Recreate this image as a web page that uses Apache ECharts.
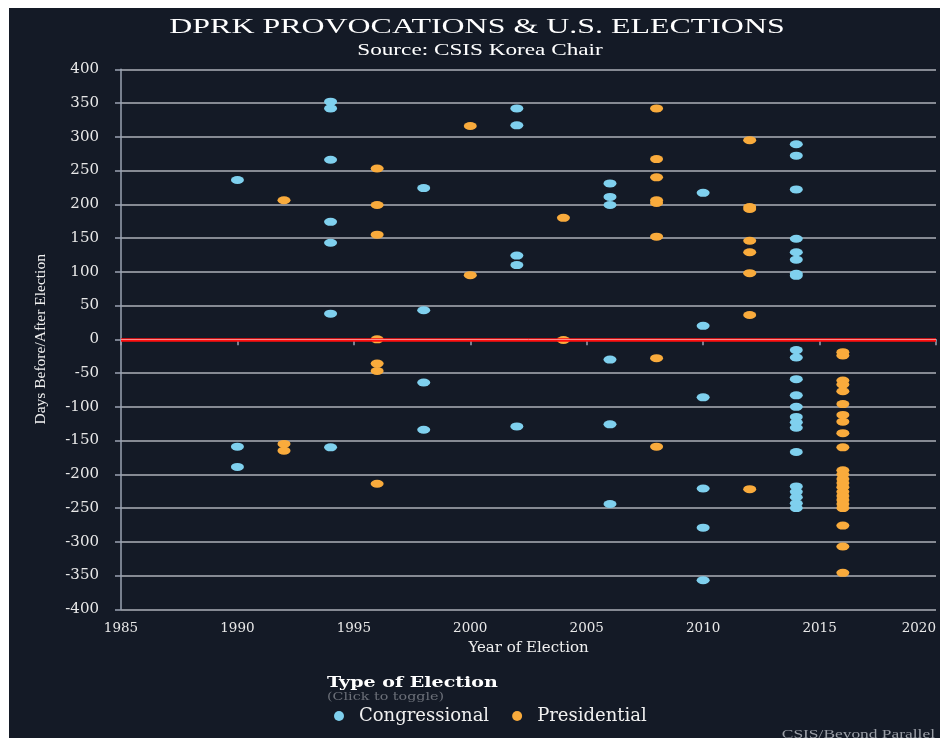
<!DOCTYPE html>
<html>
<head>
<meta charset="utf-8">
<script src="https://cdn.jsdelivr.net/npm/echarts@6/dist/echarts.min.js"></script>
<style>
html,body{margin:0;padding:0;background:#ffffff;width:940px;height:738px;overflow:hidden;}
#chart{position:absolute;left:9px;top:8px;width:931px;height:730px;background:#141a26;}
</style>
</head>
<body>
<div id="chart"></div>
<script>
// ---- Data ----
const titleText = 'DPRK PROVOCATIONS & U.S. ELECTIONS';
const subtitleText = 'Source: CSIS Korea Chair';
const seriesNames = ['Congressional', 'Presidential'];

const congressionalYears = [
  1990,1990,1990,
  1994,1994,1994,1994,1994,1994,1994,
  1998,1998,1998,1998,
  2002,2002,2002,2002,2002,
  2006,2006,2006,2006,2006,2006,
  2010,2010,2010,2010,2010,2010,
  2014,2014,2014,2014,2014,2014,2014,2014,2014,2014,2014,2014,2014,2014,2014,2014,2014,2014,2014,2014,2014,2014
];
const congressionalDays = [
  236,-159,-189,
  352,342,266,174,143,38,-160,
  224,43,-64,-134,
  342,317,124,110,-129,
  231,211,199,-30,-126,-244,
  217,20,-86,-221,-279,-357,
  289,272,222,149,129,118,97,94,-16,-27,-59,-83,-100,-115,-123,-131,-167,-218,-226,-234,-243,-250
];

const presidentialYears = [
  1992,1992,1992,
  1996,1996,1996,1996,1996,1996,1996,
  2000,2000,
  2004,2004,
  2008,2008,2008,2008,2008,2008,2008,2008,
  2012,2012,2012,2012,2012,2012,2012,2012,
  2016,2016,2016,2016,2016,2016,2016,2016,2016,2016,2016,2016,2016,2016,2016,2016,2016,2016,2016,2016,2016,2016,2016
];
const presidentialDays = [
  206,-155,-165,
  253,199,155,0,-36,-47,-214,
  316,95,
  180,-1,
  342,267,240,206,202,152,-28,-159,
  295,196,193,146,129,98,36,-222,
  -19,-24,-61,-67,-77,-96,-112,-122,-139,-160,-194,-200,-207,-213,-219,-226,-232,-238,-244,-250,-276,-307,-346
];

const xTicks = {min: 1985, max: 2020, step: 5};
const yTicks = {min: -400, max: 400, step: 50};

// ---- Build ----
function pairs(xs, ys){ return xs.map((x,i)=>[x, ys[i]]); }

const BLUE = '#7fd0ee';
const ORANGE = '#f9ab3c';
const serif = '"Liberation Serif", "DejaVu Serif", serif';
const dserif = '"DejaVu Serif", serif';

const chart = echarts.init(document.getElementById('chart'), null, {renderer:'canvas'});
chart.setOption({
  backgroundColor: '#141a26',
  animation: false,
  graphic: [
    {type:'text', x:468, y:19.5, scaleX:1.52, style:{text:titleText, fill:'#ffffff', font:'21px ' + serif, textAlign:'center', textVerticalAlign:'middle'}},
    {type:'text', x:471, y:42.5, scaleX:1.45, style:{text:subtitleText, fill:'#ffffff', font:'16px ' + serif, textAlign:'center', textVerticalAlign:'middle'}},
    {type:'text', x:318, y:675, scaleX:1.27, style:{text:'Type of Election', fill:'#ffffff', font:'bold 15px ' + dserif, textAlign:'left', textVerticalAlign:'middle'}},
    {type:'text', x:318, y:689, scaleX:1.3, style:{text:'(Click to toggle)', fill:'#6b6f78', font:'11px ' + dserif, textAlign:'left', textVerticalAlign:'middle'}},
    {type:'text', x:926, y:727, scaleX:1.45, style:{text:'CSIS/Beyond Parallel', fill:'#9a9ea6', font:'12px ' + serif, textAlign:'right', textVerticalAlign:'middle'}}
  ],
  legend: {
    data: seriesNames,
    left: 320, top: 694,
    icon: 'circle', itemWidth: 10, itemHeight: 10, itemGap: 23,
    textStyle: {color:'#f0f0f0', fontFamily: dserif, fontSize: 18, padding:[0,0,0,10]}
  },
  grid: {left: 112, right: 4, top: 61.3, bottom: 128.7, containLabel: false},
  xAxis: {
    type: 'value', min: xTicks.min, max: xTicks.max, interval: xTicks.step,
    name: 'Year of Election', nameLocation: 'middle', nameGap: 29,
    nameTextStyle: {color:'#f0f0f0', fontFamily: dserif, fontSize: 15},
    axisLine: {show:true, lineStyle:{color:'#9aa3b2', width:1.5}},
    axisTick: {show:true, length:6, lineStyle:{color:'#9aa3b2', width:1.5}},
    axisLabel: {color:'#e8e8e8', fontFamily: dserif, fontSize: 13.5, margin: 12, alignMaxLabel:'right', formatter: v => String(v)},
    splitLine: {show:false}
  },
  yAxis: {
    type: 'value', min: yTicks.min, max: yTicks.max, interval: yTicks.step,
    name: 'Days Before/After Election', nameLocation: 'middle', nameGap: 72,
    nameTextStyle: {color:'#f0f0f0', fontFamily: serif, fontSize: 15.5},
    axisLine: {show:true, lineStyle:{color:'#9aa3b2', width:1.5}},
    axisTick: {show:true, length:6, lineStyle:{color:'#9aa3b2', width:1.5}},
    axisLabel: {color:'#e8e8e8', fontFamily: dserif, fontSize: 15, margin: 22},
    splitLine: {show:true, lineStyle:{color:'#adb1b8', width:1.5}}
  },
  series: [
    {
      name: seriesNames[0], type: 'scatter', symbol:'circle', symbolSize:[13,8],
      itemStyle:{color:BLUE, opacity:1}, data: pairs(congressionalYears, congressionalDays), z: 3,
      markLine: {silent:true, symbol:'none', label:{show:false}, animation:false,
        lineStyle:{color:'#ff1010', width:3.5, type:'solid'}, data:[{yAxis:0}]}
    },
    {
      name: seriesNames[1], type: 'scatter', symbol:'circle', symbolSize:[13,8],
      itemStyle:{color:ORANGE, opacity:1}, data: pairs(presidentialYears, presidentialDays), z: 3,
      markLine: {silent:true, symbol:'none', label:{show:false}, animation:false,
        lineStyle:{color:'#ff8a8a', width:1, type:'solid'}, data:[{yAxis:0}]}
    }
  ]
});
</script>
</body>
</html>
